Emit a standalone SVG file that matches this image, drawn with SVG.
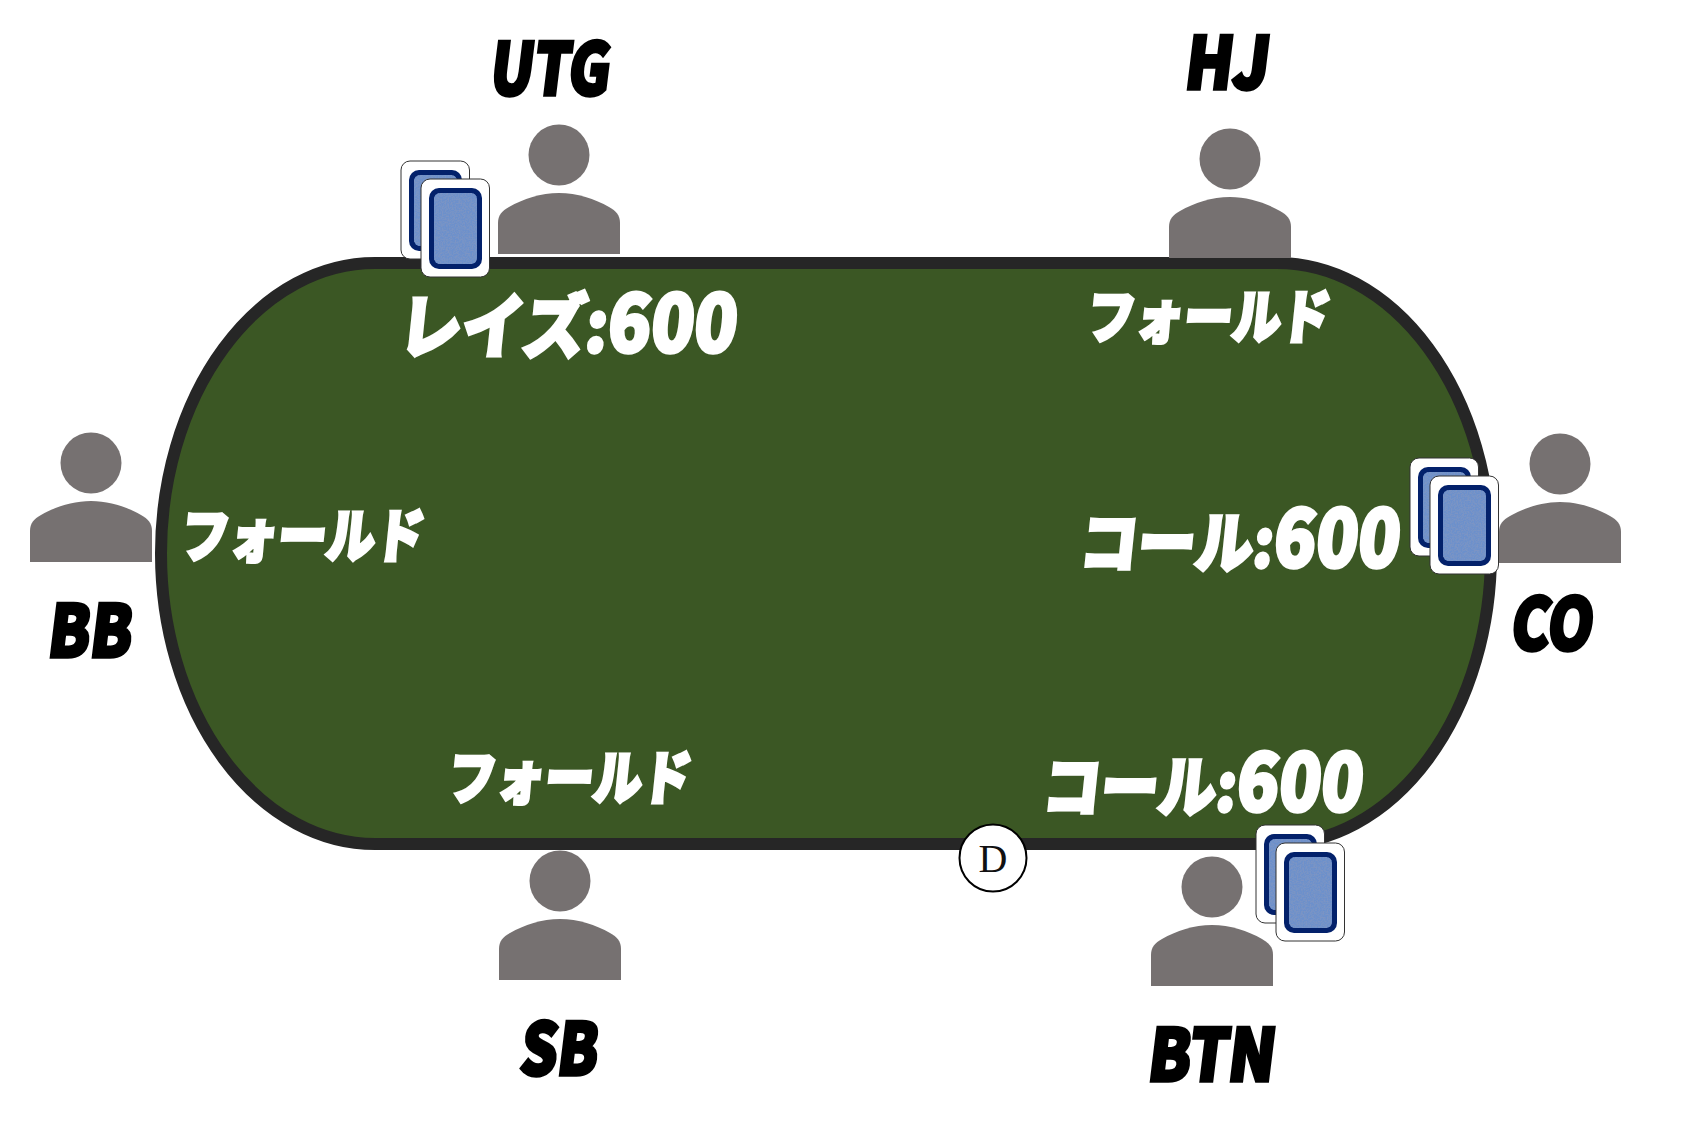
<svg xmlns="http://www.w3.org/2000/svg" width="1681" height="1132" viewBox="0 0 1681 1132">
<style>
.seat{font-family:"Noto Sans CJK JP","Liberation Sans",sans-serif;font-weight:900;font-size:72px;fill:#000;stroke:#000;stroke-width:3.5px}
.act{font-family:"Noto Sans CJK JP","Liberation Sans",sans-serif;font-weight:900;fill:#fff;stroke:#fff;stroke-width:3.5px}
.num{font-size:79px}
.person{fill:#767171}
.cardbase{fill:#fff;stroke:#333;stroke-width:1}
.cardedge{fill:#03216b}
.cardface{fill:#6c90cc}
</style>
<defs>
<filter id="grain" x="0" y="0" width="100%" height="100%">
<feTurbulence type="fractalNoise" baseFrequency="0.7" numOctaves="2" seed="4" result="n"/>
<feColorMatrix in="n" type="matrix" values="0 0 0 0 0.2  0 0 0 0 0.3  0 0 0 0 0.55  3 0 0 0 -1.05" result="d"/>
<feComposite in="d" in2="SourceGraphic" operator="in" result="c"/>
<feMerge><feMergeNode in="SourceGraphic"/><feMergeNode in="c"/></feMerge>
</filter>
<g id="person"><circle class="person" cx="0" cy="0" r="30.5"/><path class="person" d="M-61 99V68C-61 60-57 56-50 52C-36 44-18 38 0 38C18 38 36 44 50 52C57 56 61 60 61 68V99Z"/></g>
<g id="card"><rect class="cardbase" x="0" y="0" width="68.5" height="98" rx="9"/><rect class="cardedge" x="8" y="9" width="53" height="81" rx="10"/><rect class="cardface" x="13" y="14" width="43" height="71" rx="6" filter="url(#grain)"/></g>
<g id="hand"><use href="#card"/><use href="#card" x="20" y="18"/></g>
</defs>
<rect width="1681" height="1132" fill="#fff"/>
<g id="connectors"/>
<g id="table"><rect x="161" y="263" width="1330" height="581" rx="214" ry="290.5" fill="#3b5724" stroke="#262626" stroke-width="12"/></g>
<g id="UTG"><use href="#person" x="559" y="155"/><use href="#hand" x="401" y="161"/>
<text class="seat" transform="translate(488 95) skewX(-7)" textLength="120" lengthAdjust="spacingAndGlyphs">UTG</text>
<text class="act" font-size="70" transform="translate(397 352) skewX(-6)" textLength="338" lengthAdjust="spacingAndGlyphs">レイズ:<tspan class="num">600</tspan></text></g>
<g id="HJ"><use href="#person" x="1230" y="159"/>
<text class="seat" transform="translate(1183 89) skewX(-7)" textLength="84" lengthAdjust="spacingAndGlyphs">HJ</text>
<text class="act" font-size="58" transform="translate(1085 338) skewX(-6)" textLength="243" lengthAdjust="spacingAndGlyphs">フォールド</text></g>
<g id="CO"><use href="#person" x="1560" y="464"/><use href="#hand" x="1410" y="458"/>
<text class="seat" transform="translate(1509 650) skewX(-7)" textLength="82" lengthAdjust="spacingAndGlyphs">CO</text>
<text class="act" font-size="66" transform="translate(1078 567) skewX(-6)" textLength="320" lengthAdjust="spacingAndGlyphs">コール:<tspan class="num">600</tspan></text></g>
<g id="BTN"><use href="#person" x="1212" y="887"/><use href="#hand" x="1256" y="825"/>
<text class="seat" transform="translate(1146 1081) skewX(-7)" textLength="127" lengthAdjust="spacingAndGlyphs">BTN</text>
<text class="act" font-size="66" transform="translate(1041 811) skewX(-6)" textLength="320" lengthAdjust="spacingAndGlyphs">コール:<tspan class="num">600</tspan></text></g>
<g id="SB"><use href="#person" x="560" y="881"/>
<text class="seat" transform="translate(518 1075) skewX(-7)" textLength="78" lengthAdjust="spacingAndGlyphs">SB</text>
<text class="act" font-size="58" transform="translate(446 799) skewX(-6)" textLength="243" lengthAdjust="spacingAndGlyphs">フォールド</text></g>
<g id="BB"><use href="#person" x="91" y="463"/>
<text class="seat" transform="translate(46 657) skewX(-7)" textLength="84" lengthAdjust="spacingAndGlyphs">BB</text>
<text class="act" font-size="58" transform="translate(179 557) skewX(-6)" textLength="243" lengthAdjust="spacingAndGlyphs">フォールド</text></g>
<g id="dealer"><circle cx="993" cy="858" r="33.5" fill="#fff" stroke="#000" stroke-width="2"/><text x="993" y="872" text-anchor="middle" font-family="Liberation Serif,serif" font-size="40" fill="#111">D</text></g>
</svg>
